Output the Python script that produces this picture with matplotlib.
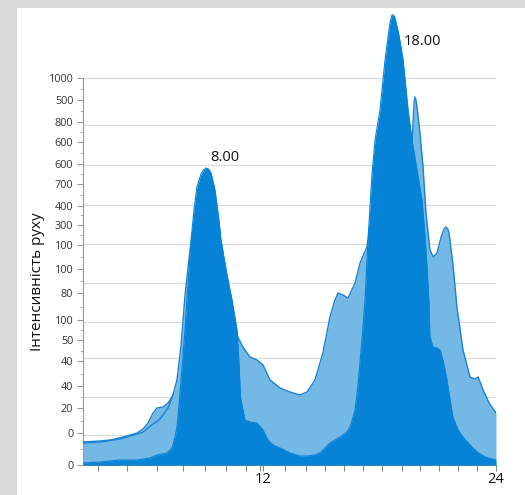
import matplotlib.pyplot as plt
from matplotlib.patches import Rectangle

# hours of day vs. traffic intensity (plot units)
dark_hours = [0.0, 0.99, 2.15, 3.14, 3.89, 4.30, 4.88, 5.17, 5.35, 5.46, 5.58, 5.70, 5.81,
              5.93, 6.04, 6.16, 6.28, 6.45, 6.62, 6.86, 7.00, 7.15, 7.30, 7.44, 7.67, 7.90,
              8.02, 8.37, 8.66, 8.95, 9.07, 9.15, 9.41, 9.70, 10.11, 10.46, 10.75, 11.04,
              11.45, 12.03, 12.61, 13.02, 13.48, 13.77, 14.35, 14.93, 15.34, 15.52, 15.81,
              15.98, 16.21, 16.39, 16.56, 16.79, 16.97, 17.26, 17.55, 17.78, 17.87, 17.96,
              18.05, 18.13, 18.36, 18.60, 18.89, 19.12, 19.41, 19.70, 19.87, 19.99, 20.11,
              20.16, 20.34, 20.57, 20.75, 20.98, 21.15, 21.33, 21.50, 21.79, 22.08, 22.49,
              22.90, 23.36, 24.0]
dark_vals = [2, 3, 5, 5, 7, 10, 12, 17, 28, 38, 60, 85, 110,
             135, 165, 195, 225, 255, 278, 291, 295, 297, 296, 292, 275, 245,
             225, 190, 165, 135, 100, 68, 45, 43, 42, 35, 25, 20,
             17, 12, 9, 9, 10, 12, 22, 28, 33, 38, 55,
             80, 125, 165, 225, 290, 325, 355, 405, 435, 445, 450,
             450, 447, 430, 405, 355, 325, 295, 265, 230, 198, 160,
             128, 118, 117, 115, 100, 85, 65, 48, 35, 28, 20,
             13, 8, 5]

light_hours = [0.0, 0.99, 1.57, 2.33, 3.14, 3.49, 3.78, 4.07, 4.30, 4.65, 4.94, 5.23, 5.46,
               5.70, 5.93, 6.22, 6.51, 6.80, 7.15, 7.50, 7.79, 8.08, 8.37, 8.66, 9.00, 9.29,
               9.70, 10.11, 10.46, 10.87, 11.45, 12.03, 12.61, 13.02, 13.48, 13.94, 14.35,
               14.64, 14.82, 15.11, 15.40, 15.81, 16.10, 16.50, 16.79, 17.26, 17.96, 18.60,
               18.89, 19.12, 19.20, 19.25, 19.29, 19.35, 19.41, 19.58, 19.76, 19.93, 20.16,
               20.36, 20.57, 20.81, 20.98, 21.09, 21.20, 21.27, 21.50, 21.73, 22.08, 22.49,
               22.78, 22.96, 23.25, 23.60, 24.0]
light_vals = [23, 24, 25, 28, 32, 36, 42, 52, 57, 58, 62, 70, 85,
              120, 170, 215, 248, 265, 272, 265, 245, 215, 182, 150, 128, 118,
              108, 105, 100, 85, 77, 73, 70, 73, 85, 112, 148,
              165, 172, 170, 167, 182, 202, 218, 250, 300, 330, 322,
              318, 320, 350, 364, 368, 365, 358, 332, 298, 252, 215,
              208, 212, 228, 236, 238, 236, 232, 200, 158, 115, 88,
              86, 88, 75, 62, 52]

light2_hours = [0.0, 0.99, 2.15, 3.14, 3.49, 3.78, 4.07, 4.36, 4.65, 4.94, 5.23]
light2_vals = [22, 23, 26, 31, 33, 37, 41, 44, 50, 57, 70]

ytick_pos = [387, 365, 343, 323, 301, 281, 259, 240, 220, 196, 172, 145, 125, 104, 79, 57, 32, 0]
ytick_labels = ["1000", "500", "800", "600", "600", "700", "400", "300", "100", "100",
                "80", "100", "50", "40", "40", "20", "0", "0"]
grid_pos = [387, 340, 300, 260, 221, 182, 143, 107, 68, 30]
xtick_minor = [0.87, 2.56, 4.30, 5.81, 7.09, 8.31, 9.47, 10.29, 11.74, 12.96, 14.06, 15.17,
               16.27, 17.37, 18.54, 19.58, 20.69, 21.79, 22.90]
xtick_pos = [10.45, 24]
xtick_labels = ["12", "24"]
peaks = [(7.38, 307, "8.00"), (18.65, 423, "18.00")]

DARK = "#0683d6"
LIGHT = "#74b8e6"
EDGE = "#1c82d2"

plt.rcParams['font.family'] = ['Open Sans', 'DejaVu Sans']

fig = plt.figure(figsize=(5.25, 4.95), dpi=100, facecolor="#d9d9d9")
# white card over the grey background
fig.patches.append(Rectangle((17 / 525, 0), 1, 1 - 8 / 495, transform=fig.transFigure,
                             facecolor="white", edgecolor="none", zorder=-10))

ax = fig.add_axes([83 / 525, 30 / 495, 413 / 525, 455 / 495])
ax.set_facecolor("none")
ax.set_zorder(5)

for g in grid_pos:
    ax.axhline(g, color="#dadada", lw=0.9, zorder=1)

ax.fill_between(light2_hours, light2_vals, color=LIGHT, lw=0, zorder=2)
ax.fill_between(light_hours, light_vals, color=LIGHT, lw=0, zorder=2)
ax.plot(light_hours, light_vals, color=EDGE, lw=1.0, zorder=3, solid_joinstyle="round")
ax.plot(light2_hours, light2_vals, color=EDGE, lw=1.0, zorder=3, solid_joinstyle="round")
ax.fill_between(dark_hours, dark_vals, color=DARK, lw=0, zorder=4)
ax.plot(dark_hours, dark_vals, color=DARK, lw=0.8, zorder=4, solid_joinstyle="round")

for x, y, txt in peaks:
    ax.text(x, y, txt, ha="left", va="center", fontsize=10.5, color="#111111", zorder=5)

ax.set_xlim(0, 24)
ax.set_ylim(0, 455)

ax.set_yticks(ytick_pos)
ax.set_yticklabels(ytick_labels)
minor_y = [(a + b) / 2 for a, b in zip(ytick_pos[:-1], ytick_pos[1:])]
ax.set_yticks(minor_y, minor=True)
ax.set_xticks(xtick_pos)
ax.set_xticklabels(xtick_labels)
ax.set_xticks(xtick_minor, minor=True)

ax.tick_params(axis="y", which="major", length=4, width=0.8, color="#999999",
               labelsize=7.8, labelcolor="#333333", pad=3)
ax.tick_params(axis="y", which="minor", length=2, width=0.6, color="#aaaaaa")
ax.tick_params(axis="x", which="both", length=4, width=0.8, color="#888888",
               labelsize=10.5, labelcolor="#111111", pad=1)

for s in ("top", "right"):
    ax.spines[s].set_visible(False)
ax.spines["left"].set_color("#999999")
ax.spines["left"].set_linewidth(0.8)
ax.spines["left"].set_bounds(0, 387)
ax.spines["bottom"].set_color("#888888")
ax.spines["bottom"].set_linewidth(0.8)

ax.set_ylabel("Інтенсивність руху", fontsize=11, color="#111111")
ax.yaxis.set_label_coords(-38 / 413, 183 / 455)

fig.savefig("out.png", dpi=100, facecolor=fig.get_facecolor())
